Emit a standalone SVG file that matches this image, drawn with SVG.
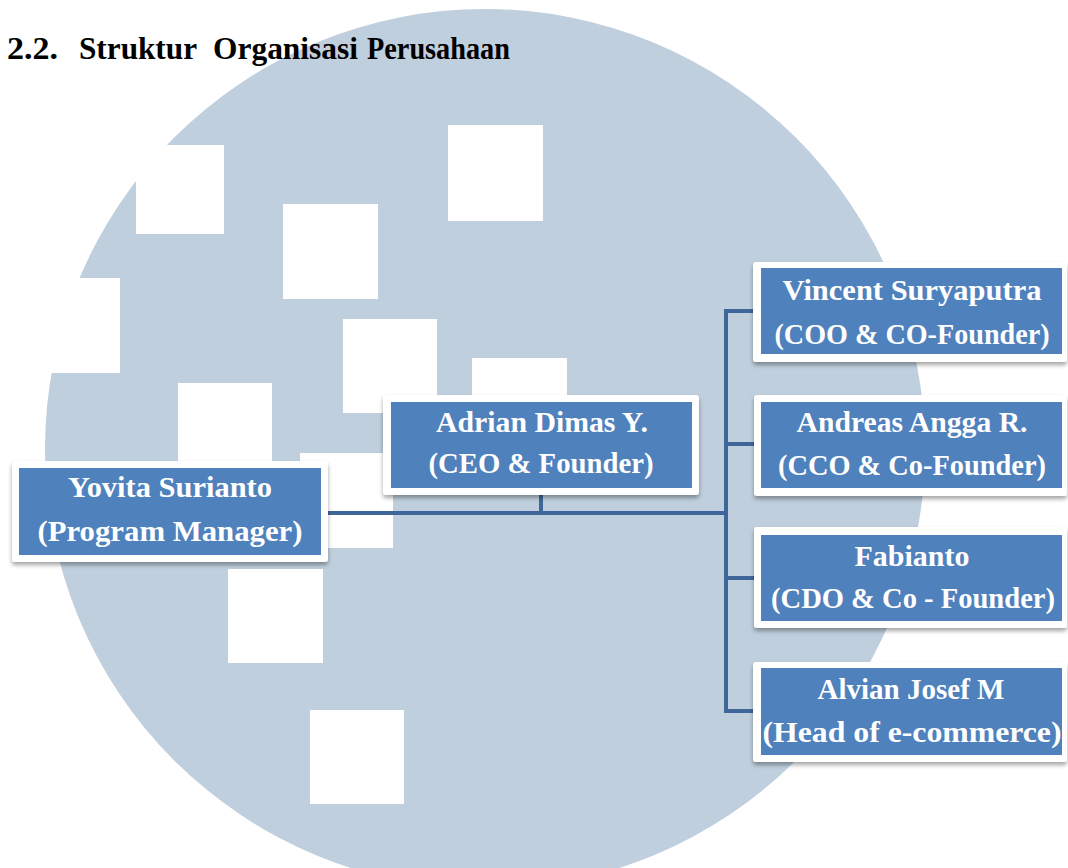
<svg xmlns="http://www.w3.org/2000/svg" width="1068" height="868" viewBox="0 0 1068 868">
  <defs>
    <filter id="sh" x="-10%" y="-20%" width="120%" height="150%">
      <feDropShadow dx="0" dy="3" stdDeviation="2" flood-color="#000" flood-opacity="0.35"/>
    </filter>
  </defs>
  <style>
    .bg { fill: #bfcfdd; }
    .win { fill: #ffffff; }
    .frame { fill: #ffffff; filter: url(#sh); }
    .inner { fill: #4f81bd; }
    .lbl { font-family: "Liberation Serif", "Times New Roman", serif; font-weight: bold; font-size: 29px; fill: #ffffff; text-anchor: middle; }
    .title { font-family: "Liberation Serif", "Times New Roman", serif; font-weight: bold; font-size: 31px; fill: #000000; }
    .conn { fill: none; stroke: #3f6699; stroke-width: 4; }
  </style>
  <rect width="1068" height="868" fill="#ffffff"/>
  <g id="background">
    <circle class="bg" cx="485" cy="449" r="440"/>
    <rect class="win" x="136" y="145" width="88" height="89"/>
    <rect class="win" x="40" y="278" width="80" height="95"/>
    <rect class="win" x="283" y="204" width="95" height="95"/>
    <rect class="win" x="448" y="125" width="95" height="96"/>
    <rect class="win" x="343" y="319" width="94" height="94"/>
    <rect class="win" x="472" y="358" width="95" height="95"/>
    <rect class="win" x="178" y="383" width="94" height="95"/>
    <rect class="win" x="300" y="453" width="93" height="95"/>
    <rect class="win" x="228" y="569" width="95" height="94"/>
    <rect class="win" x="310" y="710" width="94" height="94"/>
  </g>
  <g id="title">
    <text class="title" x="7" y="59" textLength="51" lengthAdjust="spacingAndGlyphs">2.2.</text>
    <text class="title" x="79" y="59" textLength="118" lengthAdjust="spacingAndGlyphs">Struktur</text>
    <text class="title" x="213" y="59" textLength="145" lengthAdjust="spacingAndGlyphs">Organisasi</text>
    <text class="title" x="367" y="59" textLength="143" lengthAdjust="spacingAndGlyphs">Perusahaan</text>
  </g>
  <g id="connectors">
    <path class="conn" d="M320,513 H726"/>
    <path class="conn" d="M541,490 V513"/>
    <path class="conn" d="M760,311 H726 V711 H760"/>
    <path class="conn" d="M726,444 H760"/>
    <path class="conn" d="M726,578 H760"/>
  </g>
  <g id="node-yovita">
    <rect class="frame" x="12" y="461" width="316" height="101" rx="3"/>
    <rect class="inner" x="19" y="468" width="302" height="87"/>
    <text class="lbl" x="170" y="497" textLength="204" lengthAdjust="spacingAndGlyphs">Yovita Surianto</text>
    <text class="lbl" x="170" y="541" textLength="265" lengthAdjust="spacingAndGlyphs">(Program Manager)</text>
  </g>
  <g id="node-adrian">
    <rect class="frame" x="383" y="395" width="316" height="100" rx="3"/>
    <rect class="inner" x="391" y="402" width="301" height="86"/>
    <text class="lbl" x="542" y="432" textLength="212" lengthAdjust="spacingAndGlyphs">Adrian Dimas Y.</text>
    <text class="lbl" x="541" y="473" textLength="225" lengthAdjust="spacingAndGlyphs">(CEO &amp; Founder)</text>
  </g>
  <g id="node-vincent">
    <rect class="frame" x="753" y="262" width="314" height="100" rx="3"/>
    <rect class="inner" x="761" y="268" width="301" height="86"/>
    <text class="lbl" x="912" y="300" textLength="259" lengthAdjust="spacingAndGlyphs">Vincent Suryaputra</text>
    <text class="lbl" x="912" y="344" textLength="275" lengthAdjust="spacingAndGlyphs">(COO &amp; CO-Founder)</text>
  </g>
  <g id="node-andreas">
    <rect class="frame" x="754" y="395" width="313" height="101" rx="3"/>
    <rect class="inner" x="761" y="402" width="301" height="86"/>
    <text class="lbl" x="912" y="432" textLength="231" lengthAdjust="spacingAndGlyphs">Andreas Angga R.</text>
    <text class="lbl" x="912" y="475" textLength="268" lengthAdjust="spacingAndGlyphs">(CCO &amp; Co-Founder)</text>
  </g>
  <g id="node-fabianto">
    <rect class="frame" x="754" y="527" width="313" height="101" rx="3"/>
    <rect class="inner" x="761" y="535" width="301" height="86"/>
    <text class="lbl" x="912" y="566" textLength="115" lengthAdjust="spacingAndGlyphs">Fabianto</text>
    <text class="lbl" x="913" y="608" textLength="284" lengthAdjust="spacingAndGlyphs">(CDO &amp; Co - Founder)</text>
  </g>
  <g id="node-alvian">
    <rect class="frame" x="753" y="662" width="314" height="100" rx="3"/>
    <rect class="inner" x="761" y="668" width="301" height="87"/>
    <text class="lbl" x="911" y="699" textLength="187" lengthAdjust="spacingAndGlyphs">Alvian Josef M</text>
    <text class="lbl" x="912" y="742" textLength="299" lengthAdjust="spacingAndGlyphs">(Head of e-commerce)</text>
  </g>
</svg>
